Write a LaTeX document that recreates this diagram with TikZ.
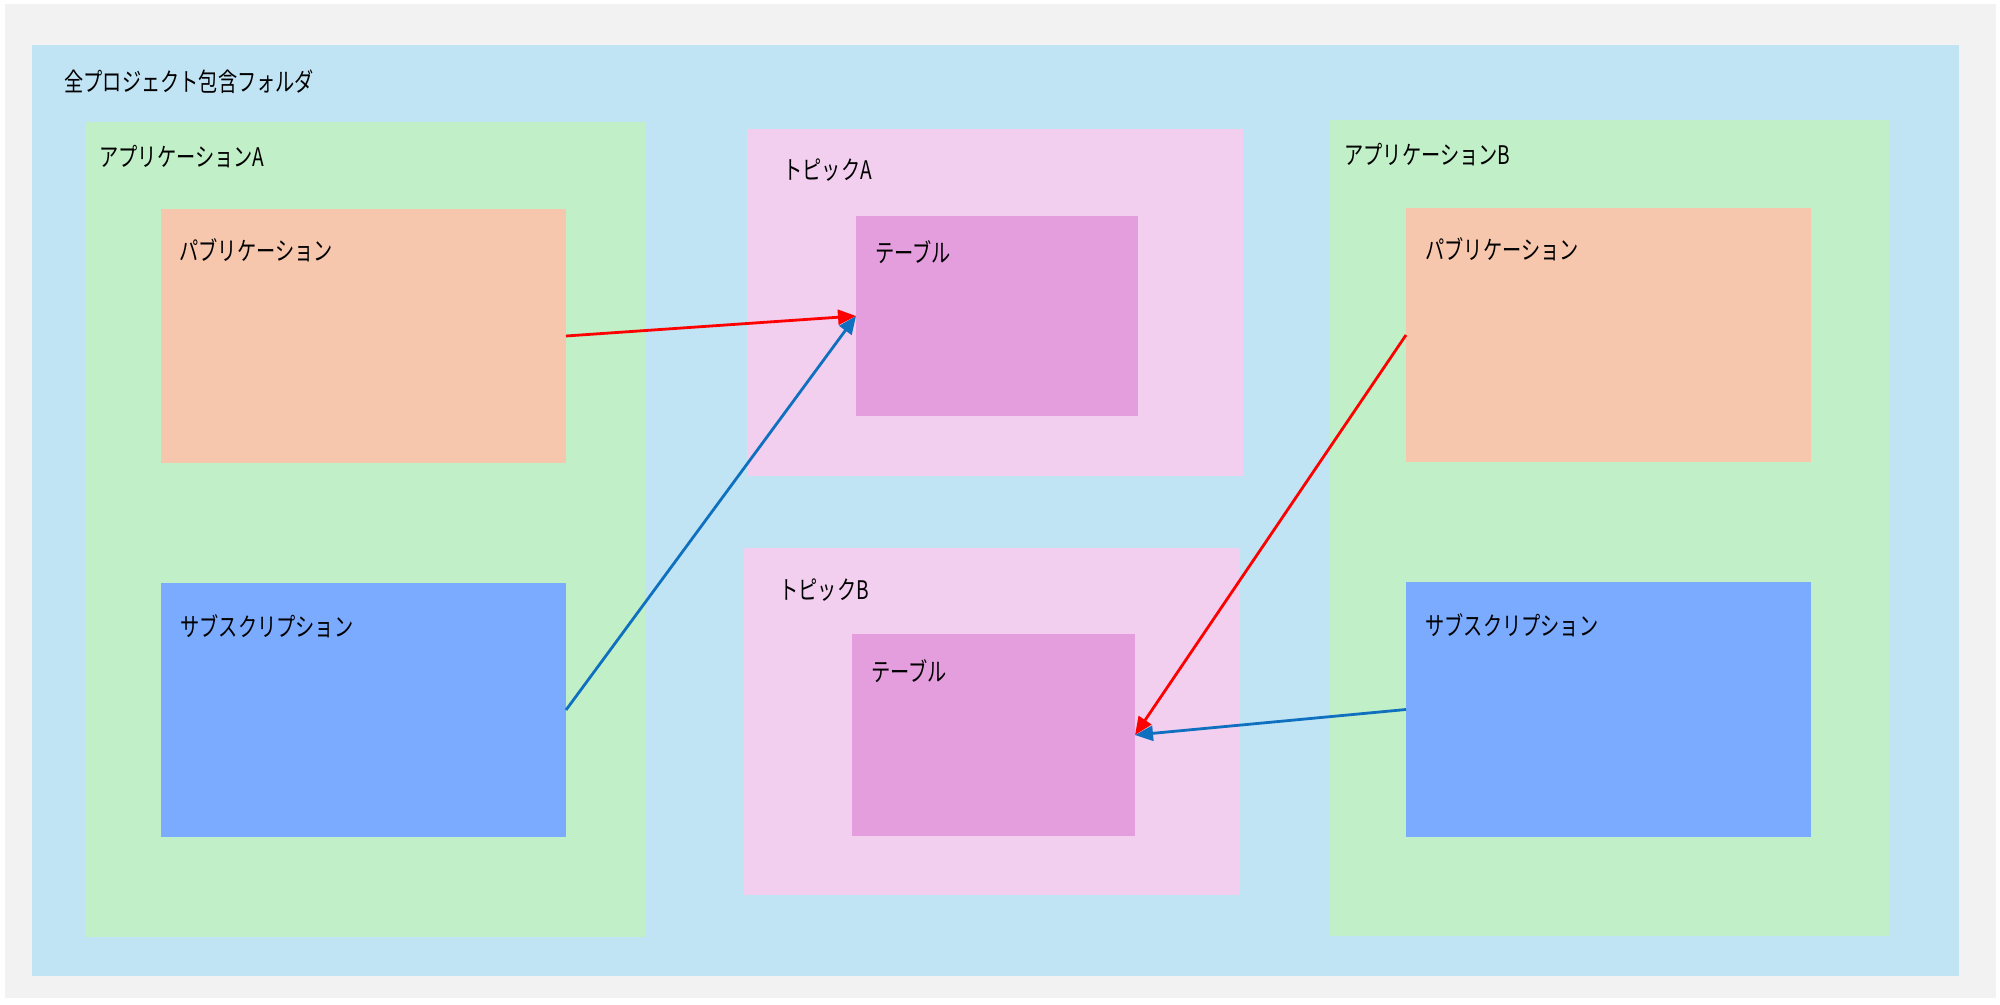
\documentclass[tikz,border=0pt]{standalone}
\usepackage{fontspec}
\setmainfont{Noto Sans CJK JP}[FakeStretch=0.75]
\usetikzlibrary{fit,arrows.meta}
\definecolor{cgrey}{HTML}{F2F2F2}
\definecolor{cfolder}{HTML}{C1E4F5}
\definecolor{capp}{HTML}{C1F0C8}
\definecolor{cpub}{HTML}{F6C6AD}
\definecolor{csub}{HTML}{7BABFF}
\definecolor{ctopic}{HTML}{F2CEEF}
\definecolor{ctable}{HTML}{E59EDD}
\definecolor{cred}{HTML}{FF0000}
\definecolor{cblue}{HTML}{0F70BF}
\tikzset{
  area/.style={inner sep=0pt, outer sep=0pt, draw=none},
  lbl/.style={anchor=base west, inner sep=0pt, font=\fontsize{12.8pt}{14pt}\selectfont, text=black},
  flow/.style={line width=1.4pt, -{Triangle[length=9pt,width=7.5pt]}, shorten >=0pt}
}
\begin{document}
\begin{tikzpicture}[x=0.5pt,y=-0.5pt]
\useasboundingbox (0,0) rectangle (2000,1005);
\fill[white] (0,0) rectangle (2000,1005);
\node[area, fill=cgrey, fit={(5,4)(1996,998)}] (bg) {};
\node[area, fill=cfolder, fit={(32,45)(1959,976)}] (folder) {};
\node[lbl] (folderl) at (64,92) {全プロジェクト包含フォルダ};

% Application A
\node[area, fill=capp, fit={(85,122)(645,937)}] (appA) {};
\node[lbl] (appAl) at (99,167) {アプリケーションA};
\node[area, fill=cpub, fit={(161,209)(566,463)}] (pubA) {};
\node[lbl] (pubAl) at (179,261) {パブリケーション};
\node[area, fill=csub, fit={(161,583)(566,837)}] (subA) {};
\node[lbl] (subAl) at (180,636) {サブスクリプション};

% Topic A
\node[area, fill=ctopic, fit={(747,129)(1243,476)}] (topA) {};
\node[lbl] (topAl) at (783,180) {トピックA};
\node[area, fill=ctable, fit={(856,216)(1138,416)}] (tabA) {};
\node[lbl] (tabAl) at (875,263) {テーブル};

% Topic B
\node[area, fill=ctopic, fit={(744,548)(1240,895)}] (topB) {};
\node[lbl] (topBl) at (779,599) {トピックB};
\node[area, fill=ctable, fit={(852,634)(1135,836)}] (tabB) {};
\node[lbl] (tabBl) at (871,681) {テーブル};

% Application B
\node[area, fill=capp, fit={(1330,120)(1890,936)}] (appB) {};
\node[lbl] (appBl) at (1344,165) {アプリケーションB};
\node[area, fill=cpub, fit={(1406,208)(1811,462)}] (pubB) {};
\node[lbl] (pubBl) at (1425,260) {パブリケーション};
\node[area, fill=csub, fit={(1406,582)(1811,837)}] (subB) {};
\node[lbl] (subBl) at (1425,635) {サブスクリプション};

% Connectors
\draw[flow, cred] (pubA.east) -- (tabA.west);
\draw[flow, cblue] (subA.east) -- (tabA.west);
\draw[flow, cred] (pubB.west) -- (tabB.east);
\draw[flow, cblue] (subB.west) -- (tabB.east);
\end{tikzpicture}
\end{document}
